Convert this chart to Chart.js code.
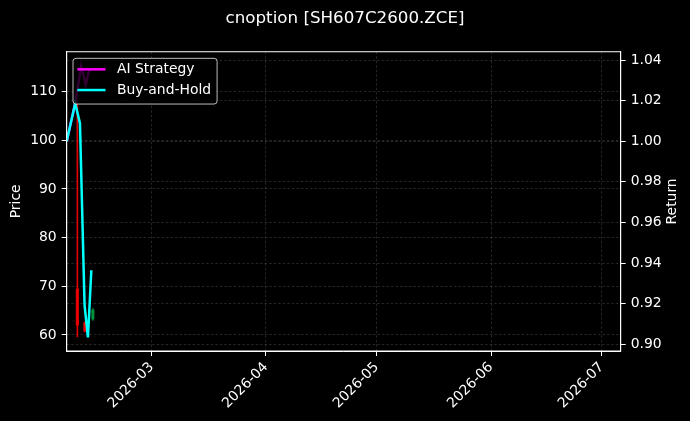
<!DOCTYPE html>
<html>
<head>
<meta charset="utf-8">
<script src="https://cdn.jsdelivr.net/npm/chart.js@4.4.1/dist/chart.umd.min.js"></script>
<style>
  html, body { margin: 0; padding: 0; background: #000; }
  canvas { display: block; }
</style>
</head>
<body>
<canvas id="chart" width="690" height="421"></canvas>
<script>
// candles (price axis), dates as 'YYYY-MM-DD HH:mm'
const candleDates = ['2026-02-08 21:00', '2026-02-10 22:00', '2026-02-13 02:00'];
const opens  = [69.4, 62.5, 63.3];
const highs  = [108.0, 62.7, 65.4];
const lows   = [59.6, 60.6, 63.0];
const closes = [62.0, 60.8, 65.1];

// return curves (return axis)
const aiDates    = ['2026-02-06 00:00', '2026-02-08 07:00', '2026-02-09 22:00', '2026-02-11 03:00', '2026-02-12 06:00'];
const aiStrategy = [1.000, 1.0187, 1.037, 1.028, 1.036];
const bhDates    = ['2026-02-06 00:00', '2026-02-08 07:00', '2026-02-09 14:00', '2026-02-10 20:00', '2026-02-11 18:00', '2026-02-12 16:00'];
const buyAndHold = [1.000, 1.0187, 1.0089, 0.9192, 0.9034, 0.9365];

// ticks
const monthTicks  = ['2026-03-01', '2026-04-01', '2026-05-01', '2026-06-01', '2026-07-01'];
const monthLabels = ['2026-03', '2026-04', '2026-05', '2026-06', '2026-07'];
const priceTicks  = [60, 70, 80, 90, 100, 110];
const returnTicks = [0.90, 0.92, 0.94, 0.96, 0.98, 1.00, 1.02, 1.04];

// days since 2026-01-01
const toDay = s => {
    const [d, t = '00:00'] = s.split(' ');
    const [y, m, dd] = d.split('-').map(Number);
    const [hh, mm] = t.split(':').map(Number);
    return (Date.UTC(y, m - 1, dd, hh, mm) - Date.UTC(2026, 0, 1)) / 86400000;
};

const xMin = toDay('2026-02-06 00:00') - 0.01;
const xMax = toDay('2026-07-06 03:30');

const FONT = 'DejaVu Sans';
const gridColor = 'rgba(150,150,150,0.42)';

const wickData = candleDates.map((d, i) => ({ x: toDay(d), y: [lows[i], highs[i]] }));
const bodyData = candleDates.map((d, i) => ({ x: toDay(d), y: [opens[i], closes[i]] }));
const candleColors = opens.map((o, i) => closes[i] >= o ? 'rgba(0,150,60,0.85)' : 'rgba(235,0,0,0.95)');

// black background
const background = {
    id: 'background',
    beforeDraw(chart) {
        const ctx = chart.ctx;
        ctx.save();
        ctx.fillStyle = '#000';
        ctx.fillRect(0, 0, chart.width, chart.height);
        ctx.restore();
    }
};

// full frame + right axis label (matplotlib style, reads bottom to top)
const frame = {
    id: 'frame',
    afterDatasetsDraw(chart) {
        const { ctx, chartArea: a } = chart;
        ctx.save();
        ctx.strokeStyle = '#fff';
        ctx.lineWidth = 1;
        ctx.strokeRect(a.left, a.top, a.right - a.left, a.bottom - a.top);
        ctx.translate(672, (a.top + a.bottom) / 2);
        ctx.rotate(-Math.PI / 2);
        ctx.fillStyle = '#fff';
        ctx.font = '13.9px "' + FONT + '"';
        ctx.textAlign = 'center';
        ctx.textBaseline = 'middle';
        ctx.fillText('Return', 0, 0);
        ctx.restore();
    }
};

// legend drawn above the data, like the framed matplotlib one
const legendBox = {
    id: 'legendBox',
    afterDraw(chart) {
        const { ctx, chartArea } = chart;
        const items = chart.data.datasets.filter(ds => ds.type === 'line');
        ctx.save();
        ctx.font = '13.9px "' + FONT + '"';
        const textW = Math.max(...items.map(it => ctx.measureText(it.label).width));
        const x = chartArea.left + 6.3, y = chartArea.top + 6.6;
        const w = 44 + textW + 6, h = 45.7;
        ctx.beginPath();
        ctx.roundRect(x, y, w, h, 3);
        ctx.fillStyle = 'rgba(0,0,0,0.8)';
        ctx.fill();
        ctx.strokeStyle = 'rgba(220,220,220,0.85)';
        ctx.lineWidth = 1;
        ctx.stroke();
        items.forEach((it, i) => {
            const cy = y + 11 + i * 20.7;
            ctx.strokeStyle = it.borderColor;
            ctx.lineWidth = 2.5;
            ctx.beginPath();
            ctx.moveTo(x + 4.3, cy);
            ctx.lineTo(x + 32.5, cy);
            ctx.stroke();
            ctx.fillStyle = '#fff';
            ctx.textBaseline = 'middle';
            ctx.fillText(it.label, x + 44, cy + 0.5);
        });
        ctx.restore();
    }
};

Chart.defaults.font.family = FONT;
Chart.defaults.color = '#fff';

new Chart(document.getElementById('chart'), {
    type: 'line',
    data: {
        datasets: [
            {
                type: 'line',
                label: 'AI Strategy',
                data: aiDates.map((d, i) => ({ x: toDay(d), y: aiStrategy[i] })),
                borderColor: '#ff00ff',
                borderWidth: 2.5,
                pointRadius: 0,
                tension: 0,
                yAxisID: 'y2',
                order: 1
            },
            {
                type: 'line',
                label: 'Buy-and-Hold',
                data: bhDates.map((d, i) => ({ x: toDay(d), y: buyAndHold[i] })),
                borderColor: '#00ffff',
                borderWidth: 2.5,
                pointRadius: 0,
                tension: 0,
                yAxisID: 'y2',
                order: 0
            },
            {
                type: 'bar',
                data: wickData,
                backgroundColor: candleColors,
                barThickness: 1,
                grouped: false,
                borderWidth: 0,
                yAxisID: 'y',
                order: 3
            },
            {
                type: 'bar',
                data: bodyData,
                backgroundColor: candleColors,
                barThickness: 2.5,
                grouped: false,
                borderWidth: 0,
                yAxisID: 'y',
                order: 2
            }
        ]
    },
    options: {
        responsive: false,
        animation: false,
        layout: { padding: 0 },
        plugins: {
            legend: { display: false },
            tooltip: { enabled: false },
            title: {
                display: true,
                text: 'cnoption [SH607C2600.ZCE]',
                color: '#fff',
                font: { family: FONT, size: 16.7, weight: 'normal' },
                padding: { top: 8.3, bottom: 23.4 }
            }
        },
        scales: {
            x: {
                type: 'linear',
                min: xMin,
                max: xMax,
                offset: false,
                afterBuildTicks: s => { s.ticks = monthTicks.map(d => ({ value: toDay(d) })); },
                afterFit: s => { s.height = 70; },
                ticks: {
                    callback: (v, i) => monthLabels[i],
                    minRotation: 45,
                    maxRotation: 45,
                    autoSkip: false,
                    color: '#fff',
                    font: { size: 13.9 },
                    padding: 3
                },
                grid: { color: gridColor, lineWidth: 0.6, tickLength: 5, tickColor: '#fff', tickWidth: 1, offset: false },
                border: { color: '#fff', width: 1, dash: [2.5, 2] }
            },
            y: {
                type: 'linear',
                position: 'left',
                min: 56.7,
                max: 118.2,
                afterBuildTicks: s => { s.ticks = priceTicks.map(v => ({ value: v })); },
                afterFit: s => { s.width = 66.7; },
                ticks: { autoSkip: false, color: '#fff', font: { size: 13.9 }, padding: 5, callback: v => String(v) },
                title: { display: true, text: 'Price', color: '#fff', font: { size: 13.9 }, padding: { top: 8.4, bottom: 0 } },
                grid: { color: gridColor, lineWidth: 0.6, tickLength: 5, tickColor: '#fff', tickWidth: 1 },
                border: { color: '#fff', width: 1, dash: [2.5, 2] }
            },
            y2: {
                type: 'linear',
                position: 'right',
                min: 0.8967,
                max: 1.0441,
                afterBuildTicks: s => { s.ticks = returnTicks.map(v => ({ value: v })); },
                afterFit: s => { s.width = 69.3; },
                ticks: { autoSkip: false, color: '#fff', font: { size: 13.9 }, padding: 5, callback: v => v.toFixed(2) },
                grid: { color: gridColor, lineWidth: 0.6, tickLength: 5, tickColor: '#fff', tickWidth: 1 },
                border: { color: '#fff', width: 1, dash: [2.5, 2] }
            }
        }
    },
    plugins: [background, frame, legendBox]
});
</script>
</body>
</html>
